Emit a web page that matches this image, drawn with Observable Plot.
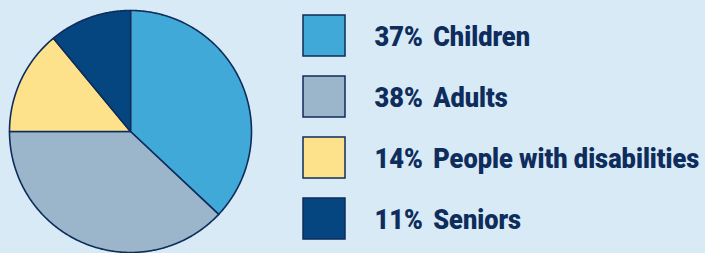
<!DOCTYPE html>
<html>
<head>
<meta charset="utf-8">
<script src="https://cdn.jsdelivr.net/npm/d3@7"></script>
<script src="https://cdn.jsdelivr.net/npm/@observablehq/plot@0.6"></script>
<style>
  html, body { margin: 0; padding: 0; background: #d7eaf5; }
  #chart { display: flex; width: 705px; height: 253px; overflow: hidden; }
  svg { display: block; }
</style>
</head>
<body>
<div id="chart"></div>
<script>
const labels = ["Children", "Adults", "People with disabilities", "Seniors"];
const shares = [37, 38, 14, 11];
const palette = ["#41a9d8", "#9bb5cb", "#fee18b", "#064680"];

const navy = "#0e2c5c";
const condense = 0.94; // emulate a condensed bold face
const rows = labels.map((label, i) => ({label, pct: shares[i]}));

// Pie geometry via d3.pie (angles clockwise from 12 o'clock)
const arcs = d3.pie().sort(null).value(d => d.pct)(rows);
const pts = [];
for (const a of arcs) {
  const n = Math.max(2, Math.ceil((a.endAngle - a.startAngle) / (Math.PI / 360)));
  pts.push({label: a.data.label, x: 0, y: 0});
  for (let k = 0; k <= n; k++) {
    const t = a.startAngle + (a.endAngle - a.startAngle) * k / n;
    pts.push({label: a.data.label, x: Math.sin(t), y: Math.cos(t)});
  }
  pts.push({label: a.data.label, x: 0, y: 0});
}

const color = {domain: labels, range: palette};

const pie = Plot.plot({
  width: 260,
  height: 253,
  marginLeft: 9, marginRight: 9, marginTop: 10, marginBottom: 1,
  x: {domain: [-1, 1], axis: null},
  y: {domain: [-1, 1], axis: null},
  color,
  style: {background: "transparent", overflow: "visible"},
  marks: [
    Plot.line(pts, {x: "x", y: "y", z: "label", fill: "label", stroke: navy, strokeWidth: 1.6, strokeLinejoin: "round", curve: "linear"})
  ]
});

const legend = Plot.plot({
  width: 445,
  height: 253,
  margin: 0,
  x: {type: "band", domain: ["swatch"], range: [43, 85], padding: 0, axis: null},
  y: {type: "band", domain: labels, range: [14, 241], paddingInner: 0.32, paddingOuter: 0, axis: null},
  color,
  style: {background: "transparent", overflow: "visible", fontFamily: "Roboto, sans-serif"},
  marks: [
    Plot.cell(rows, {x: () => "swatch", y: "label", fill: "label", stroke: navy, strokeWidth: 1.5, inset: 0}),
    Plot.text(rows, {x: () => "swatch", y: "label", text: d => d.pct + "%", dx: 50, dy: 1, textAnchor: "start", fontSize: 27, fontWeight: 900, fill: navy}),
    Plot.text(rows, {x: () => "swatch", y: "label", text: "label", dx: 108.7, dy: 1, textAnchor: "start", fontSize: 27, fontWeight: 900, fill: navy})
  ]
});

document.getElementById("chart").append(pie, legend);

// Narrow the glyphs uniformly to approximate the condensed face of the original
legend.querySelectorAll("text").forEach(t => {
  const w = t.getComputedTextLength();
  t.setAttribute("textLength", (w * condense).toFixed(1));
  t.setAttribute("lengthAdjust", "spacingAndGlyphs");
});
</script>
</body>
</html>
